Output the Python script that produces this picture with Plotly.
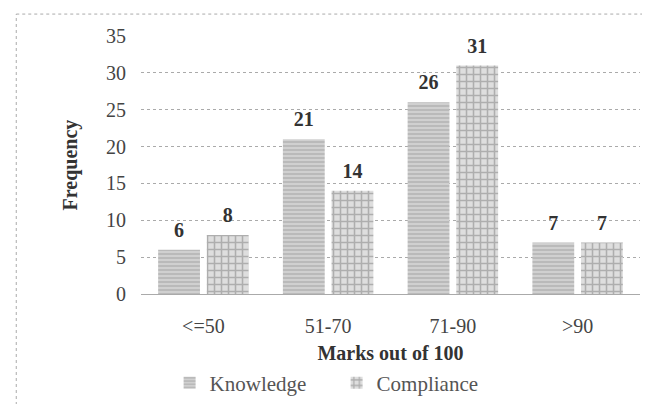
import plotly.graph_objects as go

categories = ["<=50", "51-70", "71-90", ">90"]
knowledge = [6, 21, 26, 7]
compliance = [8, 14, 31, 7]
y_ticks = [0, 5, 10, 15, 20, 25, 30, 35]

FONT = "Liberation Serif"
W, H = 642, 396  # page shows the figure offset by the body margin
GAP = 0.22

fig = go.Figure()
fig.add_trace(go.Bar(
    x=categories, y=knowledge, name="Knowledge",
    marker=dict(color="#c8c8c8", line=dict(width=0),
                pattern=dict(shape="-", fgcolor="#999999", bgcolor="#d0d0d0", size=4, solidity=0.4)),
))
fig.add_trace(go.Bar(
    x=categories, y=compliance, name="Compliance",
    marker=dict(color="#d8d8d8", line=dict(width=0),
                pattern=dict(shape="+", fgcolor="#7d7d7d", bgcolor="#dedede", size=7, solidity=0.4)),
))
# value labels, placed with the same grouping as the bars
for vals in (knowledge, compliance):
    fig.add_trace(go.Scatter(
        x=categories, y=vals, mode="markers+text", text=[f"<b>{v}</b>" for v in vals],
        textposition="top center", marker=dict(size=11, opacity=0),
        textfont=dict(family=FONT, size=20, color="#333"), cliponaxis=False,
        showlegend=False, hoverinfo="skip",
    ))

fig.update_layout(
    width=W, height=H,
    margin=dict(l=133, r=10, t=28, b=110, autoexpand=False),
    paper_bgcolor="white", plot_bgcolor="white",
    barmode="group", bargap=GAP, bargroupgap=0.14,
    scattermode="group", scattergap=GAP,
    font=dict(family=FONT, size=20, color="#444"),
    xaxis=dict(
        title=dict(text="<b>Marks out of 100</b>", font=dict(family=FONT, size=20, color="#333"), standoff=9),
        showgrid=False, showline=False, ticks="", ticklabelstandoff=18, automargin=False,
        tickfont=dict(family=FONT, size=20, color="#444"),
    ),
    yaxis=dict(
        title=dict(text="<b>Frequency</b>", font=dict(family=FONT, size=20, color="#333"), standoff=23),
        range=[0, 35], tickvals=y_ticks, showgrid=True, gridcolor="#aaaaaa", griddash="dot",
        gridwidth=1, zeroline=True, zerolinecolor="#aaaaaa", zerolinewidth=1, automargin=False,
        ticks="", ticklabelstandoff=14, tickfont=dict(family=FONT, size=20, color="#444"),
    ),
    legend=dict(orientation="h", x=0.392, xanchor="center", y=-0.345, yanchor="middle",
                font=dict(family=FONT, size=21, color="#555"), itemwidth=30,
                entrywidthmode="pixels", entrywidth=122),
    showlegend=True,
)
fig.add_shape(type="line", xref="paper", yref="paper", x0=-0.25, x1=-0.25, y0=-0.5, y1=1.085,
              line=dict(color="#aaa", width=1, dash="dot"))
fig.add_shape(type="line", xref="paper", yref="paper", x0=-0.25, x1=1.014, y0=1.085, y1=1.085,
              line=dict(color="#aaa", width=1, dash="dot"))
fig.add_shape(type="line", xref="paper", yref="paper", x0=1.014, x1=1.014, y0=-0.5, y1=1.085,
              line=dict(color="#aaa", width=1, dash="dot"))
fig.write_html("out.html")
